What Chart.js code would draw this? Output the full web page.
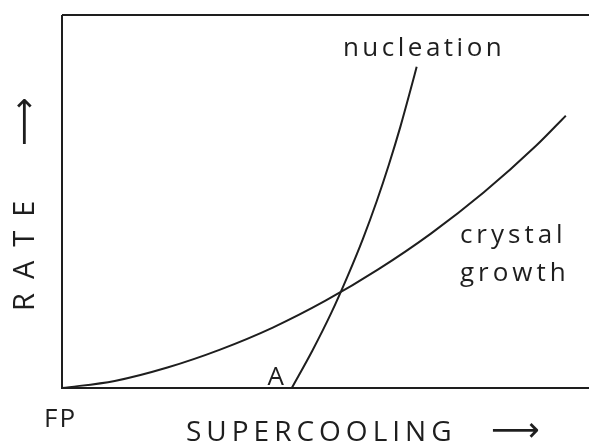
<!DOCTYPE html>
<html>
<head>
<meta charset="utf-8">
<script src="https://cdn.jsdelivr.net/npm/chart.js"></script>
<style>
    html, body { margin: 0; padding: 0; background: #fff; }
    .chart-container { width: 589px; height: 443px; position: relative; }
</style>
</head>
<body>
<div class="chart-container">
    <canvas id="rateChart"></canvas>
</div>
<script>
    // curves (x = supercooling, y = rate, both 0..100)
    var growthX = [0, 10, 20, 30, 40, 50, 60, 70, 80, 90, 95.6];
    var growthY = [0, 1.9, 5.5, 10.3, 16.2, 23.4, 31.8, 41.4, 52.4, 65.0, 73.0];
    var nucleationX = [43.6, 47.5, 51.05, 54.2, 57.1, 59.7, 62.05, 64.2, 66.15, 67.3];
    var nucleationY = [0, 10, 20, 30, 40, 50, 60, 70, 80, 86.1];

    var ink = '#1e1e1e';
    var font = '"Open Sans", "DejaVu Sans", sans-serif';

    function toPoints(xs, ys) {
        var pts = [];
        for (var i = 0; i < xs.length; i++) pts.push({ x: xs[i], y: ys[i] });
        return pts;
    }

    // frame lines and the hand lettering
    var lettering = {
        id: 'lettering',
        afterDraw: function(chart) {
            var ctx = chart.ctx;
            var a = chart.chartArea;
            var xs = chart.scales.x, ys = chart.scales.y;
            ctx.save();
            ctx.strokeStyle = ink;
            ctx.lineWidth = 2;
            ctx.beginPath();
            ctx.moveTo(a.left, a.top);
            ctx.lineTo(a.right, a.top);
            ctx.moveTo(a.left, a.top);
            ctx.lineTo(a.left, a.bottom);
            ctx.lineTo(a.right, a.bottom);
            ctx.stroke();

            ctx.fillStyle = ink;
            ctx.textBaseline = 'alphabetic';
            ctx.textAlign = 'left';

            ctx.letterSpacing = '3.5px';
            ctx.font = '26px ' + font;
            ctx.fillText('nucleation', xs.getPixelForValue(53.3), ys.getPixelForValue(89.0));
            ctx.letterSpacing = '4px';
            ctx.fillText('crystal', xs.getPixelForValue(75.5), ys.getPixelForValue(38.9));
            ctx.fillText('growth', xs.getPixelForValue(75.5), ys.getPixelForValue(28.7));

            ctx.letterSpacing = '0px';
            ctx.font = '26px ' + font;
            ctx.fillText('A', xs.getPixelForValue(39.0), a.bottom - 3);
            ctx.letterSpacing = '2px';
            ctx.fillText('FP', 44, a.bottom + 39);

            ctx.letterSpacing = '5px';
            ctx.font = '28px ' + font;
            ctx.fillText('SUPERCOOLING', 186, 441);
            ctx.letterSpacing = '0px';
            ctx.font = '34px "DejaVu Sans", sans-serif';
            ctx.fillText('\u27F6', 491, 441);

            ctx.translate(34, 311);
            ctx.rotate(-Math.PI / 2);
            ctx.letterSpacing = '14px';
            ctx.font = '29px ' + font;
            ctx.fillText('RATE', 0, 0);
            ctx.letterSpacing = '0px';
            ctx.font = '34px "DejaVu Sans", sans-serif';
            ctx.fillText('\u27F6', 165, 1);
            ctx.restore();
        }
    };

    var ctx = document.getElementById('rateChart').getContext('2d');
    window.rateChart = new Chart(ctx, {
        type: 'scatter',
        data: {
            datasets: [{
                label: 'crystal growth',
                data: toPoints(growthX, growthY),
                showLine: true,
                borderColor: ink,
                borderWidth: 2,
                pointRadius: 0,
                cubicInterpolationMode: 'monotone'
            }, {
                label: 'nucleation',
                data: toPoints(nucleationX, nucleationY),
                showLine: true,
                borderColor: ink,
                borderWidth: 2,
                pointRadius: 0,
                cubicInterpolationMode: 'monotone'
            }]
        },
        options: {
            responsive: true,
            maintainAspectRatio: false,
            animation: false,
            layout: { padding: { left: 62, top: 15, right: 0, bottom: 55 } },
            plugins: { legend: { display: false }, tooltip: { enabled: false } },
            scales: {
                x: { display: false, min: 0, max: 100 },
                y: { display: false, min: 0, max: 100 }
            }
        },
        plugins: [lettering]
    });
</script>
</body>
</html>
